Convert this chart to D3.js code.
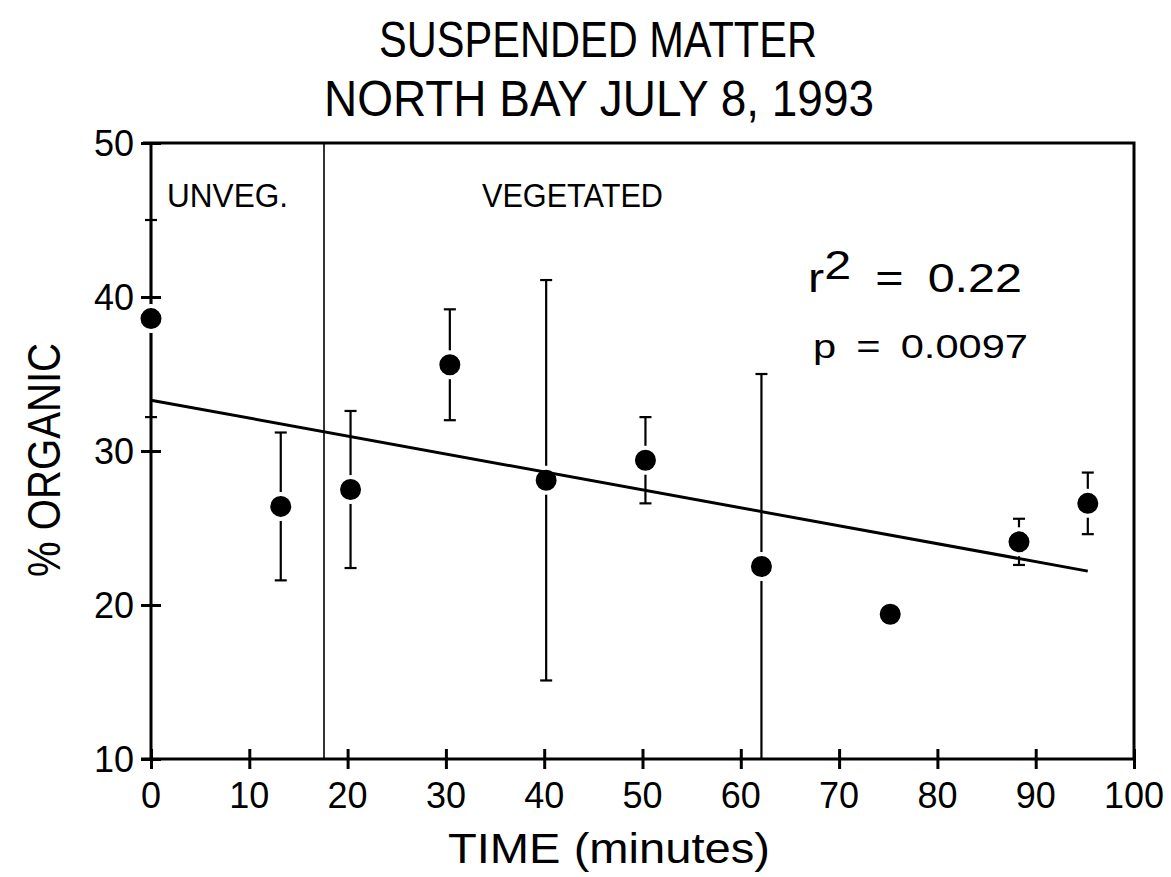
<!DOCTYPE html>
<html lang="en">
<head>
<meta charset="utf-8" />
<title>Suspended Matter – North Bay July 8, 1993</title>
<style>
  body{margin:0;background:#fff;}
  svg{display:block;}
  text{font-family:"Liberation Sans",Arial,Helvetica,sans-serif;fill:#000;}
</style>
<script src="https://cdn.jsdelivr.net/npm/d3@7.9.0/dist/d3.min.js"></script>
</head>
<body>
<svg id="chart" width="1171" height="877"></svg>
<script>
/* ───────── DATA ───────── */
const times   = [0, 13.2, 20.3, 30.4, 40.2, 50.3, 62.1, 75.2, 88.3, 95.3];   // minutes
const organic = [38.6, 26.4, 27.5, 35.6, 28.1, 29.4, 22.5, 19.4, 24.1, 26.6]; // % organic
const errs    = [6.4, 4.8, 5.1, 3.6, 13.0, 2.8, 12.5, 0.4, 1.5, 2.0];
const fitX    = [0, 95.3];      // regression line end points
const fitY    = [33.3, 22.2];
const xTicks  = [0,10,20,30,40,50,60,70,80,90,100];
const yTicks  = [10,20,30,40,50];
const splitAt = 17.6;           // unvegetated / vegetated boundary

/* ───────── CONFIG ───────── */
const X0 = 151, X1 = 1134, Y0 = 759, Y1 = 143;
const DOT_R = 12.5, CAP = 6, TICK = 10;

const svg = d3.select('#chart');
const x = d3.scaleLinear([0,100],[X0,X1]);
const y = d3.scaleLinear([10,50],[Y0,Y1]);

/* squeeze / stretch text to a given width (original font differs) */
function fit(sel,w){ sel.attr('textLength',w).attr('lengthAdjust','spacingAndGlyphs'); return sel; }

/* frame: top + right lines */
svg.append('path')
   .attr('d',`M${X0-8},${Y1}H${X1}V${Y0}`)
   .attr('fill','none').attr('stroke','#000').attr('stroke-width',3);

/* axes, ticks crossing the axis line */
const xAxis = d3.axisBottom(x).tickValues(xTicks).tickSize(TICK).tickFormat('');
const gx = svg.append('g').attr('transform',`translate(0,${Y0})`).call(xAxis);
gx.select('.domain').attr('d',`M${X0-10},0H${X1}`);
gx.selectAll('.tick line').attr('y1',-TICK);

const yAxis = d3.axisLeft(y).tickValues(yTicks).tickSize(TICK).tickFormat('');
const gy = svg.append('g').attr('transform',`translate(${X0},0)`).call(yAxis);
gy.select('.domain').attr('d',`M0,${Y0}V${Y1}`);
gy.selectAll('.tick line').attr('x2',-TICK).attr('x1',TICK);
svg.selectAll('.domain,.tick line').attr('stroke','#000').attr('stroke-width',3);

/* tick labels */
svg.append('g').selectAll('text').data(xTicks).join('text')
   .attr('x',d=>x(d)).attr('y',Y0+49)
   .attr('text-anchor','middle').attr('font-size',36).text(d=>d);
svg.append('g').selectAll('text').data(yTicks).join('text')
   .attr('x',X0-17).attr('y',d=>y(d)+13)
   .attr('text-anchor','end').attr('font-size',36).text(d=>d);

/* divider between regions */
svg.append('line')
   .attr('x1',x(splitAt)).attr('x2',x(splitAt)).attr('y1',Y1).attr('y2',Y0)
   .attr('stroke','#000').attr('stroke-width',1.6);

/* error bars */
const pts = times.map((t,i)=>({t,v:organic[i],e:errs[i]}));
const clampY = v=>y(Math.max(10,Math.min(50,v)));
const eb = svg.append('g').attr('stroke','#000').attr('stroke-width',2.2);
pts.forEach(d=>{
  const cx=x(d.t), top=clampY(d.v+d.e), bot=clampY(d.v-d.e);
  eb.append('line').attr('x1',cx).attr('x2',cx).attr('y1',top).attr('y2',bot);
  eb.append('line').attr('x1',cx-CAP).attr('x2',cx+CAP).attr('y1',top).attr('y2',top);
  if(d.v-d.e>10) eb.append('line').attr('x1',cx-CAP).attr('x2',cx+CAP).attr('y1',bot).attr('y2',bot);
});

/* points */
svg.append('g').selectAll('circle').data(pts).join('circle')
   .attr('cx',d=>x(d.t)).attr('cy',d=>y(d.v)).attr('r',DOT_R)
   .attr('fill','#000').attr('stroke','#fff').attr('stroke-width',4);

/* regression line */
svg.append('line')
   .attr('x1',x(fitX[0])).attr('y1',y(fitY[0]))
   .attr('x2',x(fitX[1])).attr('y2',y(fitY[1]))
   .attr('stroke','#000').attr('stroke-width',3);

/* titles & labels */
fit(svg.append('text').attr('x',598).attr('y',57).attr('text-anchor','middle')
   .attr('font-size',50).text('SUSPENDED MATTER'),438);
fit(svg.append('text').attr('x',599).attr('y',116).attr('text-anchor','middle')
   .attr('font-size',50).text('NORTH BAY JULY 8, 1993'),550);

fit(svg.append('text').attr('x',609).attr('y',863).attr('text-anchor','middle')
   .attr('font-size',42).text('TIME (minutes)'),322);

fit(svg.append('text').attr('transform','translate(60,460) rotate(-90)')
   .attr('text-anchor','middle').attr('font-size',47).text('% ORGANIC'),234);

fit(svg.append('text').attr('x',167).attr('y',207).attr('font-size',33).text('UNVEG.'),121);
fit(svg.append('text').attr('x',482).attr('y',207).attr('font-size',34).text('VEGETATED'),181);

const r2 = svg.append('text').attr('x',808).attr('y',292).attr('font-size',41)
   .attr('word-spacing',9);
r2.append('tspan').text('r');
r2.append('tspan').attr('dy',-13).text('2');
r2.append('tspan').attr('dy',13).text(' = 0.22');
fit(r2,214);

fit(svg.append('text').attr('x',813).attr('y',358).attr('font-size',34)
   .attr('word-spacing',7).text('p = 0.0097'),215);
</script>
</body>
</html>
